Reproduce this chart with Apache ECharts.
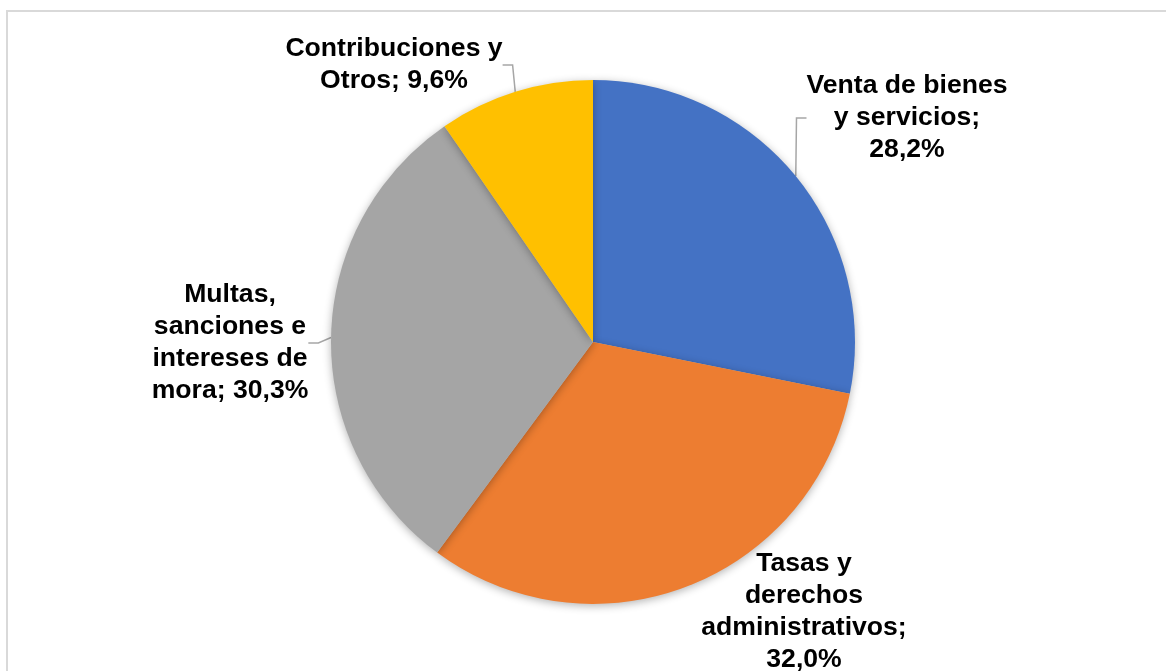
<!DOCTYPE html>
<html>
<head>
<meta charset="utf-8">
<script src="https://cdn.jsdelivr.net/npm/echarts@6/dist/echarts.min.js"></script>
<style>
  html, body { margin: 0; padding: 0; background: #fff; }
  #chart { width: 1166px; height: 671px; }
</style>
</head>
<body>
<div id="chart"></div>
<script>
var categories = ['Venta de bienes y servicios', 'Tasas y derechos administrativos', 'Multas, sanciones e intereses de mora', 'Contribuciones y Otros'];
var values = [28.2, 32.0, 30.3, 9.6];
var colors = ['#4472C4', '#ED7D31', '#A5A5A5', '#FFC000'];
// texto de las etiquetas con sus saltos de linea
var labelNames = ['Venta de bienes\ny servicios', 'Tasas y\nderechos\nadministrativos', 'Multas,\nsanciones e\nintereses de\nmora', 'Contribuciones y\nOtros'];
var labelSep = [';\n', ';\n', '; ', '; '];
// posicion (centro) de cada etiqueta
var labelPos = [[907, 118], [804, 612], [230, 343], [394, 65]];

var myChart = echarts.init(document.getElementById('chart'));

var seriesData = [];
for (var i = 0; i < values.length; i++) {
    seriesData.push({
        name: categories[i],
        value: values[i],
        itemStyle: { color: colors[i] },
        labelLine: { show: i !== 1 }
    });
}

var option = {
    animation: false,
    graphic: [{
        type: 'rect',
        shape: { x: 7, y: 11, width: 1170, height: 680 },
        style: { fill: 'none', stroke: '#d9d9d9', lineWidth: 2 },
        silent: true
    }],
    series: [{
        type: 'pie',
        center: [593, 342],
        radius: 262,
        startAngle: 90,
        clockwise: true,
        data: seriesData,
        itemStyle: {
            borderWidth: 0,
            shadowBlur: 8,
            shadowColor: 'rgba(0,0,0,0.3)',
            shadowOffsetY: 2
        },
        label: {
            show: true,
            position: 'outside',
            fontFamily: '"Liberation Sans", Arial, sans-serif',
            fontWeight: 'bold',
            fontSize: 26.6,
            lineHeight: 32,
            color: '#000',
            align: 'center',
            formatter: function (p) {
                return labelNames[p.dataIndex] + labelSep[p.dataIndex] + p.value.toFixed(1).replace('.', ',') + '%';
            }
        },
        labelLine: {
            show: true,
            length: 10,
            length2: 10,
            lineStyle: { color: '#a6a6a6', width: 1.5 }
        },
        labelLayout: function (params) {
            var pos = labelPos[params.dataIndex];
            return { x: pos[0], y: pos[1], align: 'center', verticalAlign: 'middle' };
        }
    }]
};

myChart.setOption(option);
</script>
</body>
</html>
